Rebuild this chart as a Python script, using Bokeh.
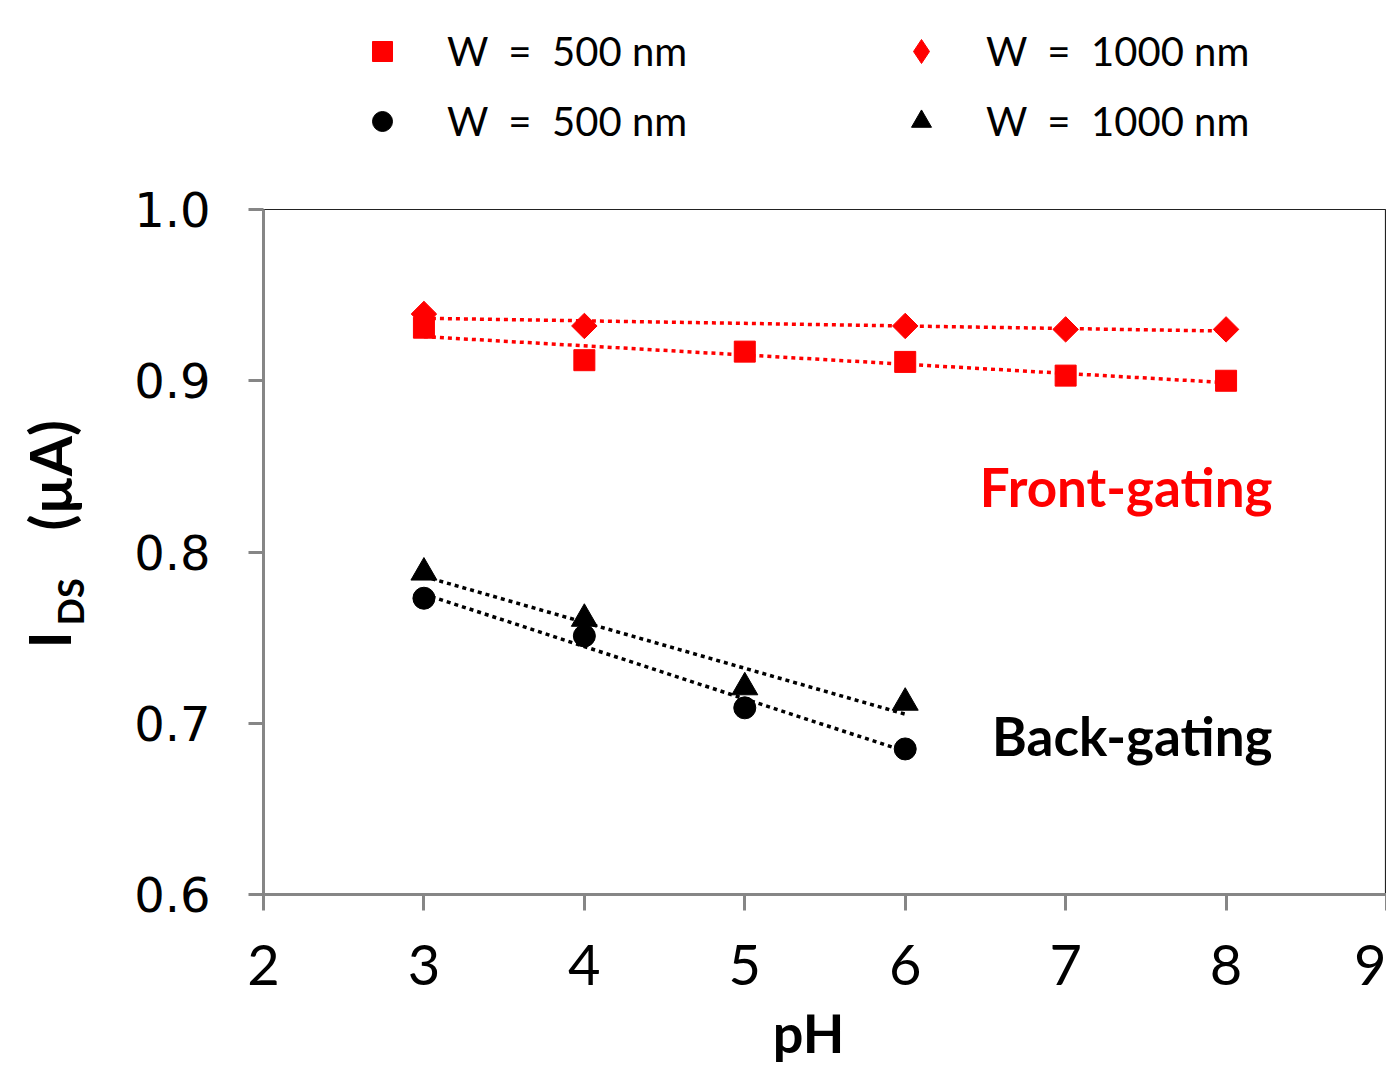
import numpy as np
from bokeh.plotting import figure
from bokeh.layouts import row, column
from bokeh.models import (Range1d, FixedTicker, PrintfTickFormatter, Label,
                          Legend, LegendItem)
from bokeh.embed import file_html
from bokeh.resources import INLINE

# ---------------- data ----------------
ph_front_500 = [3, 4, 5, 6, 7, 8]
front_500 = [0.931, 0.912, 0.917, 0.911, 0.903, 0.900]

ph_front_1000 = [3, 4, 6, 7, 8]
front_1000 = [0.939, 0.932, 0.932, 0.930, 0.930]

ph_back = [3, 4, 5, 6]
back_500 = [0.773, 0.751, 0.709, 0.685]
back_1000 = [0.788, 0.761, 0.721, 0.712]

x_ticks = [2, 3, 4, 5, 6, 7, 8, 9]
y_ticks = [0.6, 0.7, 0.8, 0.9, 1.0]

SP2 = "\u00a0\u00a0"
legend_labels = ["W" + SP2 + "=" + SP2 + "500 nm", "W" + SP2 + "=" + SP2 + "1000 nm",
                 "W" + SP2 + "=" + SP2 + "500 nm", "W" + SP2 + "=" + SP2 + "1000 nm"]
x_title = "pH"
y_title_main = "I"
y_title_sub = "DS"
y_title_unit = "(\u00b5A)"
annot_front = "Front-gating"
annot_back = "Back-gating"

RED = "#FF0000"
BLACK = "#000000"
GREY = "#868686"

TOTAL_W = 1386
TOTAL_H = 1063
TOP_H = 180
LEFT_W = 120
MAIN_W = TOTAL_W - LEFT_W
FRAME_L, FRAME_T, FRAME_B = 263, 209, 894
MAIN_BOTTOM_BORDER = 120
MID_H = FRAME_B - TOP_H + MAIN_BOTTOM_BORDER
BOTTOM_H = TOTAL_H - TOP_H - MID_H
MID_RATIO = 0.387  # distance from baseline to text-box centre (em), Lato

STYLE = dict(square=dict(marker="square", size=21, fill_color=RED, line_color=RED),
             diamond=dict(marker="square", angle=np.pi / 4, size=18, fill_color=RED, line_color=RED),
             circle=dict(marker="circle", size=22, fill_color=BLACK, line_color=BLACK),
             triangle=dict(marker="triangle", size=26, fill_color=BLACK, line_color=BLACK))


def blank(width, height, xr, yr, top=0, bottom=0):
    f = figure(width=width, height=height, x_range=xr, y_range=yr,
               output_backend="svg", toolbar_location=None,
               x_axis_location=None, y_axis_location=None,
               min_border=0, min_border_left=0, min_border_right=0,
               min_border_top=top, min_border_bottom=bottom)
    f.xgrid.visible = False
    f.ygrid.visible = False
    f.outline_line_color = None
    f.background_fill_color = "white"
    f.border_fill_color = "white"
    return f


# ---------------- main plot ----------------
p = figure(width=MAIN_W, height=MID_H, x_range=Range1d(2, 9), y_range=Range1d(0.6, 1.0),
           output_backend="svg", toolbar_location=None,
           min_border_left=FRAME_L - LEFT_W, min_border_right=0,
           min_border_top=FRAME_T - TOP_H, min_border_bottom=MAIN_BOTTOM_BORDER)
p.xgrid.visible = False
p.ygrid.visible = False
p.background_fill_color = "white"
p.border_fill_color = "white"
p.outline_line_color = "#222222"
p.outline_line_width = 1.2

for ax in (p.xaxis[0], p.yaxis[0]):
    ax.axis_line_color = GREY
    ax.axis_line_width = 3
    ax.major_tick_line_color = GREY
    ax.major_tick_line_width = 3
    ax.major_tick_in = 0
    ax.minor_tick_line_color = None
    ax.major_label_text_color = "black"

p.xaxis.ticker = FixedTicker(ticks=x_ticks)
p.xaxis.major_tick_out = 16
p.xaxis.major_label_standoff = 34
p.xaxis.major_label_text_font = "Lato"
p.xaxis.major_label_text_font_size = "56px"

p.yaxis.ticker = FixedTicker(ticks=y_ticks)
p.yaxis.formatter = PrintfTickFormatter(format="%.1f")
p.yaxis.major_tick_out = 15
p.yaxis.major_label_standoff = 38
p.yaxis.major_label_text_font = "DejaVu Sans"
p.yaxis.major_label_text_font_size = "48px"


def trend(xs, ys, color):
    k, b = np.polyfit(xs, ys, 1)
    xx = np.array([min(xs), max(xs)], dtype=float)
    p.line(xx, k * xx + b, line_color=color, line_width=3.5, line_dash="4 4")


trend(ph_front_500, front_500, RED)
trend(ph_front_1000, front_1000, RED)
trend(ph_back, back_500, BLACK)
trend(ph_back, back_1000, BLACK)

p.scatter(ph_front_500, front_500, **STYLE["square"])
p.scatter(ph_front_1000, front_1000, **STYLE["diamond"])
p.scatter(ph_back, back_500, **STYLE["circle"])
p.scatter(ph_back, back_1000, **STYLE["triangle"])

p.add_layout(Label(x=8.29, y=0.838, text=annot_front, text_align="right",
                   text_baseline="middle", text_font="Lato", text_font_style="bold",
                   text_font_size="53px", text_color=RED))
p.add_layout(Label(x=8.29, y=0.6931, text=annot_back, text_align="right",
                   text_baseline="middle", text_font="Lato", text_font_style="bold",
                   text_font_size="53px", text_color=BLACK))

# ---------------- top strip: legend ----------------
top = blank(TOTAL_W, TOP_H, Range1d(0, TOTAL_W), Range1d(TOP_H, 0))
top.extra_x_ranges = {"off": Range1d(100, 101)}
top.extra_y_ranges = {"off": Range1d(100, 101)}
OFF = dict(x_range_name="off", y_range_name="off")
l_sq = top.scatter(ph_front_500, front_500, **OFF, **STYLE["square"])
l_di = top.scatter(ph_front_1000, front_1000, **OFF, marker="diamond", size=24,
                   fill_color=RED, line_color=RED)
l_ci = top.scatter(ph_back, back_500, **OFF, **STYLE["circle"])
l_tr = top.scatter(ph_back, back_1000, **OFF, **STYLE["triangle"])

LEG = dict(padding=0, margin=0, border_line_color=None, background_fill_alpha=0,
           label_text_font="Lato", label_text_font_size="40px", label_text_color="black")

leg_a = Legend(items=[LegendItem(label=legend_labels[0], renderers=[l_sq]),
                      LegendItem(label=legend_labels[2], renderers=[l_ci])],
               orientation="vertical", location=(357, TOP_H - 26 - 120),
               glyph_width=50, glyph_height=50, label_height=50,
               label_standoff=40, spacing=20, **LEG)
leg_b = Legend(items=[LegendItem(label=legend_labels[1], renderers=[l_di])],
               orientation="vertical", location=(891, TOP_H - 21 - 60),
               glyph_width=60, glyph_height=60, label_height=60,
               label_standoff=35, spacing=0, **LEG)
leg_c = Legend(items=[LegendItem(label=legend_labels[3], renderers=[l_tr])],
               orientation="vertical", location=(896, TOP_H - 96 - 50),
               glyph_width=50, glyph_height=50, label_height=50,
               label_standoff=40, spacing=0, **LEG)
for lg in (leg_a, leg_b, leg_c):
    top.add_layout(lg, "center")

# ---------------- left strip: y title (page-pixel coordinates) ----------------
left = blank(LEFT_W, MID_H, Range1d(0, LEFT_W), Range1d(FRAME_B, FRAME_T),
             top=FRAME_T - TOP_H, bottom=MAIN_BOTTOM_BORDER)
left.add_layout(Label(x=70 - MID_RATIO * 58, y=648, text=y_title_main, angle=np.pi / 2,
                      text_align="left", text_baseline="middle", text_font="Lato",
                      text_font_style="bold", text_font_size="58px", text_color="black"))
left.add_layout(Label(x=83 - MID_RATIO * 36, y=625, text=y_title_sub, angle=np.pi / 2,
                      text_align="left", text_baseline="middle", text_font="Lato",
                      text_font_style="bold", text_font_size="36px", text_color="black"))
left.add_layout(Label(x=71 - MID_RATIO * 58, y=530, text=y_title_unit, angle=np.pi / 2,
                      text_align="left", text_baseline="middle", text_font="Lato",
                      text_font_style="bold", text_font_size="58px", text_color="black"))

# ---------------- bottom strip: x title (page-pixel coordinates) ----------------
bottom = blank(TOTAL_W, BOTTOM_H, Range1d(0, TOTAL_W), Range1d(TOTAL_H, TOTAL_H - BOTTOM_H))
bottom.add_layout(Label(x=808, y=1053 - MID_RATIO * 54, text=x_title, text_align="center",
                        text_baseline="middle", text_font="Lato", text_font_style="bold",
                        text_font_size="54px", text_color="black"))

layout = column(top, row(left, p, spacing=0), bottom, spacing=0)

open("out.html", "w").write(file_html(layout, INLINE))
